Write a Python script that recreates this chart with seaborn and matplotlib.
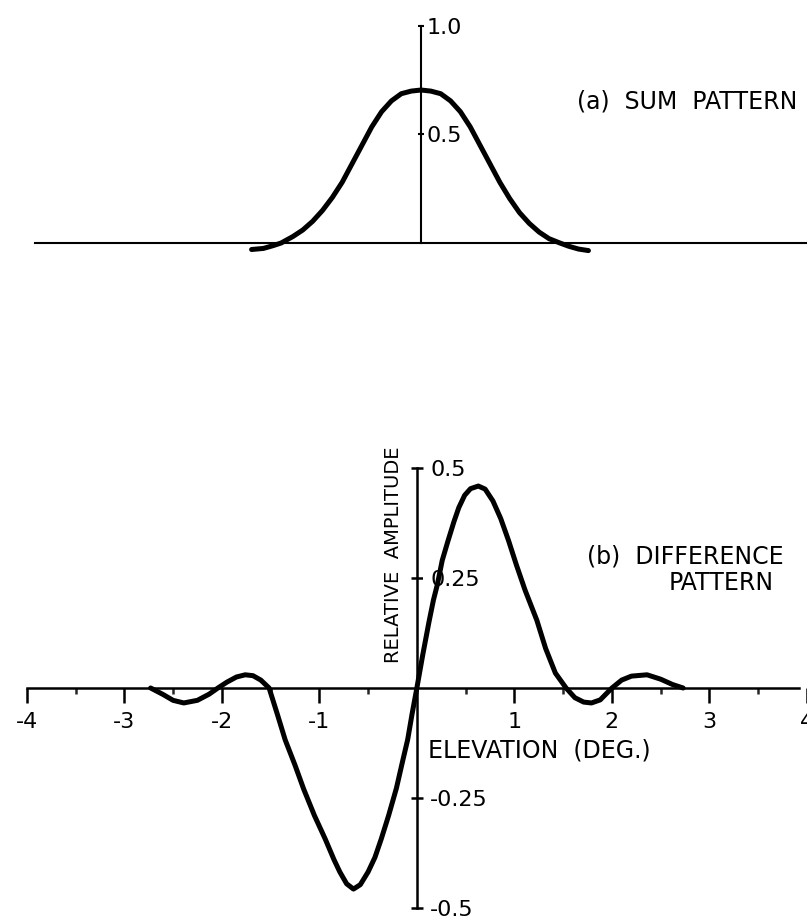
import numpy as np
import seaborn as sns
import matplotlib.pyplot as plt

# (a) sum pattern
sum_x = [-1.72, -1.6, -1.5, -1.42, -1.3, -1.2, -1.1, -1.0, -0.9, -0.8, -0.7, -0.6,
         -0.5, -0.4, -0.3, -0.2, -0.1, 0.0, 0.1, 0.2, 0.3, 0.4, 0.5, 0.6, 0.7,
         0.8, 0.9, 1.0, 1.1, 1.2, 1.3, 1.41, 1.5, 1.6, 1.7]
sum_y = [-0.03, -0.025, -0.012, 0.0, 0.03, 0.06, 0.1, 0.15, 0.21, 0.28, 0.365, 0.45,
         0.535, 0.605, 0.655, 0.688, 0.70, 0.705, 0.70, 0.688, 0.655, 0.605, 0.535, 0.45, 0.365,
         0.28, 0.205, 0.14, 0.09, 0.05, 0.02, 0.0, -0.015, -0.028, -0.035]

# (b) difference pattern
diff_x = [-2.73, -2.6, -2.5, -2.39, -2.25, -2.13, -2.04, -1.95, -1.85, -1.76, -1.68,
          -1.6, -1.515, -1.43, -1.35, -1.25, -1.16, -1.05, -0.94, -0.85, -0.79, -0.72,
          -0.65, -0.58, -0.5, -0.43, -0.365, -0.29, -0.21, -0.15, -0.094, -0.05, 0.0,
          0.06, 0.124, 0.17, 0.21, 0.26, 0.32, 0.38, 0.43, 0.49, 0.55, 0.63, 0.7, 0.78, 0.86,
          0.94, 1.02, 1.11, 1.23, 1.32, 1.42, 1.53, 1.62, 1.71, 1.79, 1.88, 2.0, 2.1,
          2.2, 2.36, 2.5, 2.62, 2.73]
diff_y = [0.0, -0.015, -0.028, -0.034, -0.028, -0.014, 0.0, 0.013, 0.025, 0.03, 0.028,
          0.018, 0.0, -0.06, -0.118, -0.175, -0.23, -0.29, -0.343, -0.39, -0.418, -0.445,
          -0.457, -0.447, -0.418, -0.385, -0.343, -0.29, -0.228, -0.17, -0.117, -0.06, 0.0,
          0.075, 0.15, 0.2, 0.235, 0.29, 0.335, 0.378, 0.41, 0.438, 0.453, 0.459, 0.452, 0.425, 0.385,
          0.335, 0.28, 0.222, 0.154, 0.09, 0.034, 0.0, -0.022, -0.032, -0.034, -0.027, 0.0, 0.018,
          0.027, 0.03, 0.02, 0.008, 0.0]

x_major = [-4, -3, -2, -1, 1, 2, 3, 4]
x_minor = [-3.5, -2.5, -1.5, -0.5, 0.5, 1.5, 2.5, 3.5]
top_yticks = [0.5, 1.0]
bot_yticks = [-0.5, -0.25, 0.25, 0.5]
bot_ylabels = ["-0.5", "-0.25", "0.25", "0.5"]

sns.set_style("white")
plt.rcParams['font.family'] = ['DejaVu Sans']
plt.rcParams['text.color'] = 'black'
plt.rcParams['lines.solid_capstyle'] = 'round'
plt.rcParams['lines.solid_joinstyle'] = 'round'

W, H = 807, 922
fig = plt.figure(figsize=(W / 100, H / 100), dpi=100)

# pixel calibration: y axis at x=421, 98.5 px per degree
xlim = (-421 / 98.5, (W - 421) / 98.5)
fs = 17
tfs = 16

# ---- top panel
ax1 = fig.add_axes([0, 1 - 300 / H, 1, 300 / H])
sns.lineplot(x=sum_x, y=sum_y, ax=ax1, color='black', lw=3.6, estimator=None)
ax1.set_xlim(xlim)
ax1.set_ylim(-(300 - 243) / 217, 243 / 217)
for s in ['top', 'left']:
    ax1.spines[s].set_visible(False)
ax1.spines['bottom'].set_position(('data', 0))
ax1.spines['bottom'].set_bounds(-3.92, xlim[1])
ax1.spines['right'].set_position(('data', 0))
ax1.spines['right'].set_bounds(0, 1.0)
for s in ['bottom', 'right']:
    ax1.spines[s].set_color('black')
    ax1.spines[s].set_linewidth(1.5)
ax1.set_xticks([])
ax1.yaxis.tick_right()
ax1.set_yticks(top_yticks)
ax1.set_yticklabels(["0.5", "1.0"])
ax1.tick_params(axis='y', direction='inout', length=5, width=1.5, pad=1.5,
                labelsize=tfs, colors='black')
ax1.set_xlabel('')
ax1.set_ylabel('')
ax1.text(1.584, 0.65, "(a)  SUM  PATTERN", fontsize=fs, va='center', ha='left')
ax1.patch.set_alpha(0)

# ---- bottom panel
ax2 = fig.add_axes([0, 0, 1, 492 / H])
sns.lineplot(x=diff_x, y=diff_y, ax=ax2, color='black', lw=3.6, estimator=None)
ax2.set_xlim(xlim)
ax2.set_ylim(-(H - 688) / 440, (688 - 430) / 440)
for s in ['top', 'left']:
    ax2.spines[s].set_visible(False)
ax2.spines['bottom'].set_position(('data', 0))
ax2.spines['bottom'].set_bounds(-4, xlim[1])
ax2.spines['right'].set_position(('data', 0))
ax2.spines['right'].set_bounds(-0.5, 0.5)
for s in ['bottom', 'right']:
    ax2.spines[s].set_color('black')
    ax2.spines[s].set_linewidth(1.8)
ax2.set_xticks(x_major)
ax2.set_xticklabels([str(v) for v in x_major])
ax2.set_xticks(x_minor, minor=True)
ax2.tick_params(axis='x', which='major', direction='out', length=11, width=1.8,
                pad=6, labelsize=tfs, colors='black', bottom=True)
ax2.tick_params(axis='x', which='minor', direction='out', length=4.5, width=1.8,
                bottom=True)
ax2.yaxis.tick_right()
ax2.set_yticks(bot_yticks)
ax2.set_yticklabels(bot_ylabels)
ax2.tick_params(axis='y', direction='inout', length=9, width=1.8, pad=5,
                labelsize=tfs, colors='black')
# the 0.25 label breaks the curve, as in the original drawing
for t in ax2.yaxis.get_major_ticks():
    if t.label2.get_text() == "0.25":
        t.label2.set_bbox(dict(facecolor='white', edgecolor='none', pad=5))
ax2.set_xlabel('')
ax2.set_ylabel('')
ax2.text(0.112, -0.141, "ELEVATION  (DEG.)", fontsize=fs, va='center', ha='left')
ax2.text(-0.244, 0.302, "RELATIVE  AMPLITUDE", fontsize=14, rotation=90,
         va='center', ha='center')
ax2.text(1.746, 0.298, "(b)  DIFFERENCE", fontsize=fs, va='center', ha='left')
ax2.text(3.117, 0.239, "PATTERN", fontsize=fs, va='center', ha='center')
ax2.patch.set_alpha(0)

fig.savefig("out.png", dpi=100, facecolor='white')
